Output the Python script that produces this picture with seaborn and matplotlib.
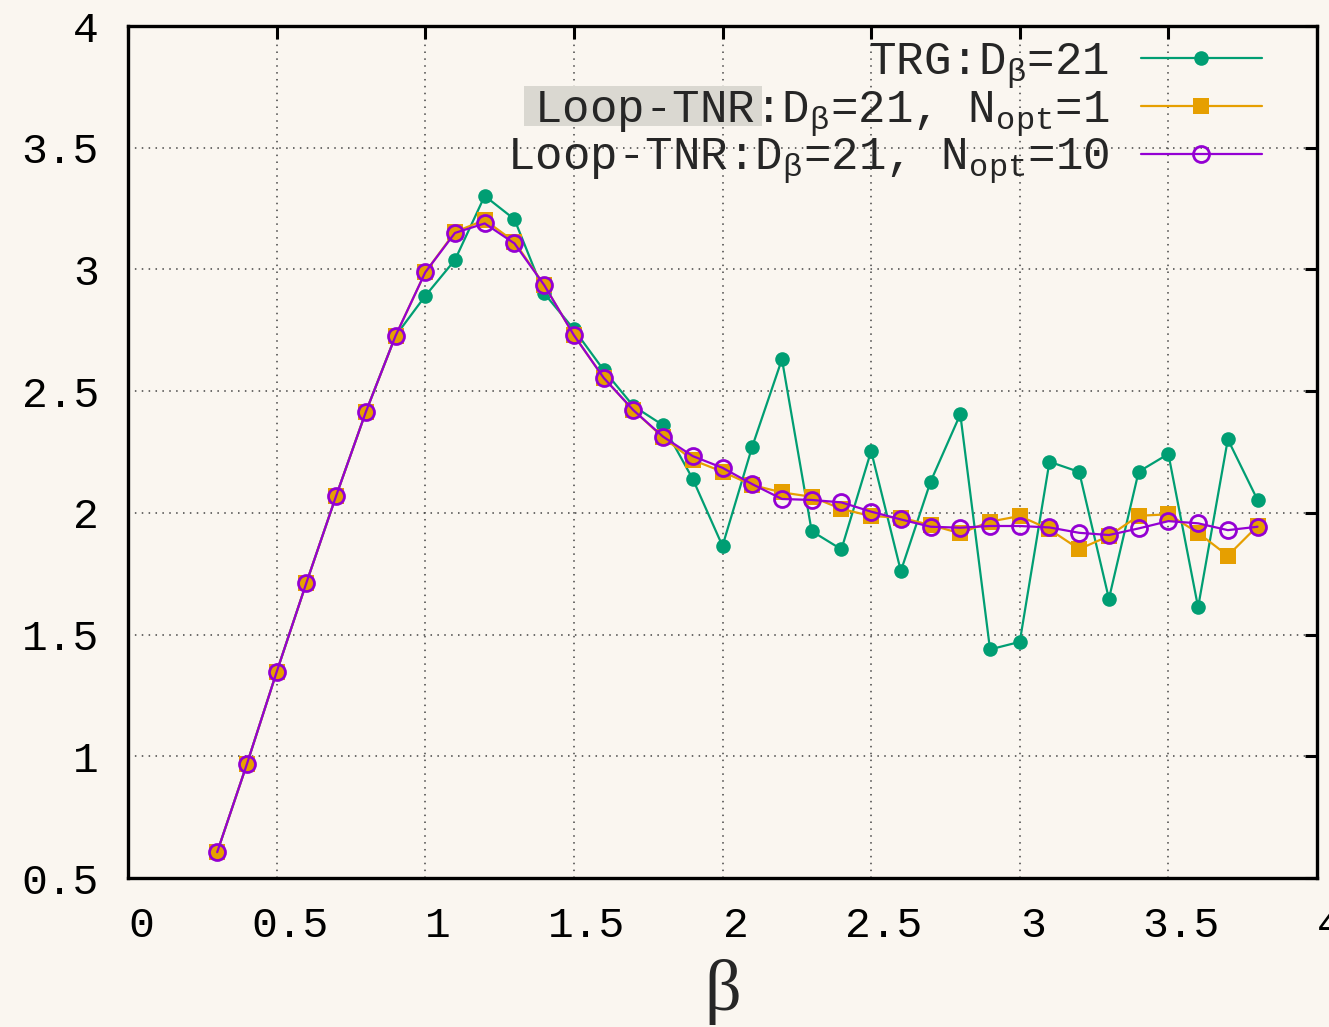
import matplotlib
matplotlib.use("Agg")
import matplotlib.pyplot as plt
import matplotlib.transforms as mtransforms
from matplotlib.patches import Rectangle
import seaborn as sns

beta = [0.3, 0.4, 0.5, 0.6, 0.7, 0.8, 0.9, 1.0, 1.1, 1.2, 1.3, 1.4, 1.5, 1.6, 1.7, 1.8,
        1.9, 2.0, 2.1, 2.2, 2.3, 2.4, 2.5, 2.6, 2.7, 2.8, 2.9, 3.0, 3.1, 3.2, 3.3, 3.4,
        3.5, 3.6, 3.7, 3.8]
trg = [0.606, 0.968, 1.346, 1.712, 2.069, 2.414, 2.727, 2.891, 3.039, 3.302, 3.206, 2.902,
       2.754, 2.587, 2.439, 2.360, 2.139, 1.864, 2.272, 2.631, 1.925, 1.850, 2.254, 1.761,
       2.128, 2.405, 1.439, 1.470, 2.210, 2.168, 1.647, 2.169, 2.242, 1.612, 2.302, 2.053]
loop_n1 = [0.606, 0.968, 1.346, 1.712, 2.069, 2.414, 2.727, 2.988, 3.154, 3.203, 3.114, 2.936,
           2.730, 2.555, 2.422, 2.310, 2.217, 2.169, 2.114, 2.084, 2.066, 2.016, 1.987, 1.980,
           1.950, 1.916, 1.964, 1.987, 1.932, 1.851, 1.905, 1.988, 1.994, 1.918, 1.824, 1.946]
loop_n10 = [0.606, 0.968, 1.346, 1.712, 2.069, 2.414, 2.727, 2.988, 3.150, 3.189, 3.107, 2.936,
            2.730, 2.555, 2.422, 2.313, 2.233, 2.185, 2.118, 2.057, 2.053, 2.043, 2.005, 1.973,
            1.943, 1.939, 1.946, 1.946, 1.940, 1.918, 1.909, 1.936, 1.966, 1.957, 1.929, 1.943]

labels = [r"TRG:D$_{\mathrm{β}}$=21",
          r"Loop-TNR:D$_{\mathrm{β}}$=21, N$_{\mathrm{opt}}$=1",
          r"Loop-TNR:D$_{\mathrm{β}}$=21, N$_{\mathrm{opt}}$=10"]
xticks = [0, 0.5, 1, 1.5, 2, 2.5, 3, 3.5, 4]
xticklabels = ["0", "0.5", "1", "1.5", "2", "2.5", "3", "3.5", "4"]
yticks = [0.5, 1, 1.5, 2, 2.5, 3, 3.5, 4]
yticklabels = ["0.5", "1", "1.5", "2", "2.5", "3", "3.5", "4"]

sns.set_theme(style="white")
BG = "#faf6f0"
plt.rcParams["font.family"] = ["Liberation Mono", "DejaVu Sans"]
plt.rcParams["mathtext.fontset"] = "custom"
plt.rcParams["mathtext.rm"] = "Liberation Mono"
plt.rcParams["mathtext.it"] = "Liberation Mono"
plt.rcParams["mathtext.bf"] = "Liberation Mono"

W, H = 1329, 1027
fig = plt.figure(figsize=(W / 100, H / 100), dpi=100, facecolor=BG)
ax = fig.add_axes([128 / W, 1 - 878 / H, (1317 - 128) / W, (878 - 26) / H], facecolor=BG)

green, orange, purple = "#009e73", "#e69f00", "#9400d3"
sns.lineplot(x=beta, y=trg, ax=ax, color=green, linewidth=1.6, marker="o",
             markersize=10.5, markeredgewidth=0, label=labels[0], zorder=3)
sns.lineplot(x=beta, y=loop_n1, ax=ax, color=orange, linewidth=1.6, marker="s",
             markersize=11.5, markeredgewidth=0, label=labels[1], zorder=3)
sns.lineplot(x=beta, y=loop_n10, ax=ax, color=purple, linewidth=1.6, marker="o",
             markersize=11.5, markerfacecolor="none", markeredgecolor=purple,
             markeredgewidth=2.0, label=labels[2], zorder=3)

ax.set_xlim(0, 4)
ax.set_ylim(0.5, 4)
ax.set_xticks(xticks)
ax.set_xticklabels(xticklabels)
ax.set_yticks(yticks)
ax.set_yticklabels(yticklabels)
ax.tick_params(axis="both", which="major", direction="in", length=9, width=2.2,
               top=True, right=True, labelsize=31, colors="black")
ax.tick_params(axis="y", pad=21)
ax.tick_params(axis="x", pad=20)
offset = mtransforms.ScaledTranslation(13 / 100, 0, fig.dpi_scale_trans)
for lab in ax.get_xticklabels():
    lab.set_transform(lab.get_transform() + offset)
for sp in ax.spines.values():
    sp.set_linewidth(2.4)
    sp.set_color("black")
ax.grid(True, color="#444444", linestyle=(0, (1, 3.5)), linewidth=1.1)

ax.set_xlabel("β", fontsize=52, family=["Liberation Serif", "DejaVu Serif"])
ax.set_ylabel("")
ax.xaxis.set_label_coords(0.5, -(992 - 878) / 852)
ax.xaxis.label.set_va("center")

leg = ax.legend(loc="upper right", bbox_to_anchor=((1262 - 128) / 1189, 0.983),
                frameon=False, markerfirst=False, fontsize=33, handlelength=2.65,
                handletextpad=0.68, labelspacing=-0.06, borderpad=0, borderaxespad=0)
leg.set_zorder(6)

hl = Rectangle((524 / W, 1 - 126 / H), 238 / W, 40 / H, transform=fig.transFigure,
               facecolor="#dad8d1", edgecolor="none", zorder=4, clip_on=False)
ax.add_patch(hl)

fig.savefig("out.png", dpi=100, facecolor=BG)
